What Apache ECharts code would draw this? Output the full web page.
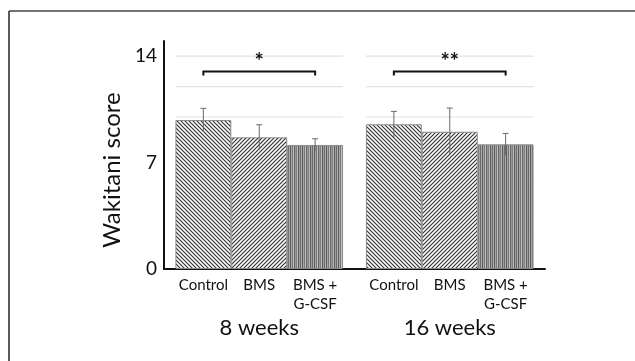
<!DOCTYPE html>
<html><head><meta charset="utf-8">
<script src="https://cdn.jsdelivr.net/npm/echarts@6/dist/echarts.min.js"></script>
<style>html,body{margin:0;padding:0;background:#fff}#c{width:635px;height:361px}</style>
</head><body><div id="c"></div>
<script>
const groups = ['8 weeks', '16 weeks'];
const treatments = ['Control', 'BMS', 'BMS +\nG-CSF'];
const controlMean = [9.8, 9.52];
const bmsMean = [8.66, 9.03];
const gcsfMean = [8.16, 8.2];
const controlSD = [0.77, 0.85];
const bmsSD = [0.83, 1.56];
const gcsfSD = [0.41, 0.72];
const yTicks = [0, 7, 14];
const gridValues = [2, 4, 6, 8, 10, 12, 14];
const sigLabels = ['*', '**'];
const sigLevel = [13, 13];

const FONT = 'Lato';
const GAP = 0.12;

function makePattern(kind) {
  const c = document.createElement('canvas');
  if (kind === 'back') {
    c.width = 4; c.height = 4;
    const g = c.getContext('2d');
    g.fillStyle = '#fff'; g.fillRect(0, 0, 4, 4);
    g.strokeStyle = '#333'; g.lineWidth = 1.2;
    g.beginPath();
    g.moveTo(-1, -1); g.lineTo(5, 5);
    g.moveTo(-1, 3); g.lineTo(1, 5);
    g.moveTo(3, -1); g.lineTo(5, 1);
    g.stroke();
  } else if (kind === 'fwd') {
    c.width = 4; c.height = 4;
    const g = c.getContext('2d');
    g.fillStyle = '#fff'; g.fillRect(0, 0, 4, 4);
    g.strokeStyle = '#333'; g.lineWidth = 1.2;
    g.beginPath();
    g.moveTo(-1, 5); g.lineTo(5, -1);
    g.moveTo(-1, 1); g.lineTo(1, -1);
    g.moveTo(3, 5); g.lineTo(5, 3);
    g.stroke();
  } else {
    const shades = ['#6a6a6a','#b0b0b0','#5a5a5a','#a8a8a8','#777','#c0c0c0','#666','#9a9a9a','#808080','#b8b8b8','#5e5e5e','#a0a0a0'];
    c.width = shades.length; c.height = 4;
    const g = c.getContext('2d');
    shades.forEach((s, i) => { g.fillStyle = s; g.fillRect(i, 0, 1, 4); });
  }
  return { image: c, repeat: 'repeat' };
}

const chart = echarts.init(document.getElementById('c'));
const meansList = [controlMean, bmsMean, gcsfMean];
const sdList = [controlSD, bmsSD, gcsfSD];
const patterns = [makePattern('back'), makePattern('fwd'), makePattern('vert')];

const barSeries = treatments.map((t, s) => ({
  type: 'bar',
  name: t,
  data: meansList[s],
  barGap: '0%',
  barCategoryGap: (GAP * 100) + '%',
  z: 3,
  itemStyle: { color: patterns[s], borderColor: '#8a8a8a', borderWidth: 1 },
  label: {
    show: true, position: 'bottom', distance: 7,
    formatter: () => t,
    fontFamily: FONT, fontSize: 15, color: '#111', lineHeight: 19, align: 'center'
  }
}));

const errData = [];
sdList.forEach((arr, s) => arr.forEach((sd, g) => errData.push([g, meansList[s][g], sd, s])));

function barOffset(api, s) {
  const cw = api.size([1, 0])[0];
  const bw = cw * (1 - GAP) / 3;
  return { bw: bw, off: (s - 1) * bw };
}

const option = {
  animation: false,
  backgroundColor: '#fff',
  grid: { left: 164, width: 381, top: 41, height: 228 },
  graphic: [
    { type: 'line', shape: { x1: 9, y1: 11, x2: 635, y2: 11 }, style: { stroke: '#444', lineWidth: 1.5 } },
    { type: 'line', shape: { x1: 9, y1: 11, x2: 9, y2: 361 }, style: { stroke: '#222', lineWidth: 1.5 } }
  ],
  xAxis: {
    type: 'category', data: groups,
    axisLine: { lineStyle: { color: '#111', width: 2 } },
    axisTick: { show: false },
    axisLabel: { margin: 48, fontFamily: FONT, fontSize: 22, color: '#111' }
  },
  yAxis: {
    type: 'value', min: 0, max: 15, interval: 7,
    name: 'Wakitani score', nameLocation: 'middle', nameGap: 40,
    nameTextStyle: { fontFamily: FONT, fontSize: 24, color: '#111', padding: [0, 30, 0, 0] },
    axisLine: { show: true, lineStyle: { color: '#111', width: 2 } },
    axisTick: { show: false },
    splitLine: { show: false },
    axisLabel: {
      showMaxLabel: false, margin: 7, fontFamily: FONT, fontSize: 19, color: '#111',
      formatter: v => (yTicks.indexOf(v) >= 0 ? String(v) : '')
    }
  },
  series: [
    {
      type: 'custom', z: 1, silent: true,
      data: gridValues.map(v => [v]),
      renderItem: (params, api) => {
        const v = api.value(0);
        const children = groups.map((g, gi) => {
          const p = api.coord([gi, v]);
          const cw = api.size([1, 0])[0];
          const half = cw * (1 - GAP) / 2;
          return { type: 'line', shape: { x1: p[0] - half, y1: p[1], x2: p[0] + half, y2: p[1] },
                   style: { stroke: '#e2e2e2', lineWidth: 1.2 } };
        });
        return { type: 'group', children: children };
      }
    },
    ...barSeries,
    {
      type: 'custom', z: 5, silent: true,
      data: errData,
      renderItem: (params, api) => {
        const g = api.value(0), m = api.value(1), sd = api.value(2), s = api.value(3);
        const o = barOffset(api, s);
        const top = api.coord([g, m + sd]);
        const bot = api.coord([g, m - sd]);
        const x = top[0] + o.off;
        return { type: 'group', children: [
          { type: 'line', shape: { x1: x, y1: top[1], x2: x, y2: bot[1] }, style: { stroke: '#6a6a6a', lineWidth: 1 } },
          { type: 'line', shape: { x1: x - 3, y1: top[1], x2: x + 3, y2: top[1] }, style: { stroke: '#6a6a6a', lineWidth: 1 } }
        ] };
      }
    },
    {
      type: 'custom', z: 6, silent: true,
      data: sigLevel.map((lv, i) => [i, lv]),
      renderItem: (params, api) => {
        const g = api.value(0), lv = api.value(1);
        const o0 = barOffset(api, 0), o2 = barOffset(api, 2);
        const p = api.coord([g, lv]);
        const x1 = p[0] + o0.off, x2 = p[0] + o2.off, y = p[1];
        return { type: 'group', children: [
          { type: 'polyline', shape: { points: [[x1, y + 4], [x1, y], [x2, y], [x2, y + 4]] }, style: { stroke: '#111', lineWidth: 2, fill: null } },
          { type: 'text', style: { x: (x1 + x2) / 2, y: y + 2, text: sigLabels[g], textAlign: 'center', textVerticalAlign: 'bottom', fontFamily: FONT, fontSize: 22, fontWeight: 'bold', fill: '#111' } }
        ] };
      }
    }
  ]
};
chart.setOption(option);
</script></body></html>
